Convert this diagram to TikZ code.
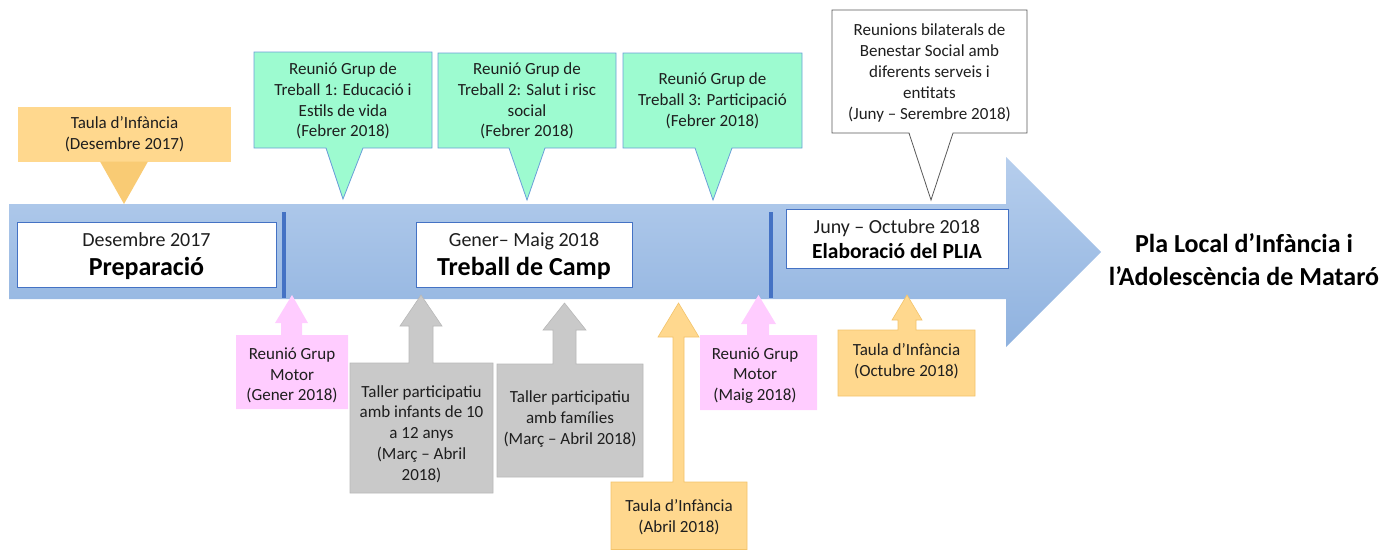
\documentclass[tikz,border=0pt]{standalone}
\usepackage{fontspec}
\setmainfont{Carlito}
\definecolor{txtc}{HTML}{1E1E1E}
\definecolor{orangef}{HTML}{FFD88E}
\definecolor{oranged}{HTML}{F9CB74}
\definecolor{orangeb}{HTML}{F3C36A}
\definecolor{pinkf}{HTML}{FFCCFF}
\definecolor{grayf}{HTML}{C9C9C9}
\definecolor{grayb}{HTML}{B8B8B8}
\definecolor{greenf}{HTML}{9DFBD0}
\definecolor{greenb}{HTML}{6A9FD8}
\definecolor{whiteb}{HTML}{595959}
\definecolor{arrtop}{HTML}{B6CEED}
\definecolor{arrmid}{HTML}{A4C1E5}
\definecolor{arrbot}{HTML}{8FB2DF}
\definecolor{divc}{HTML}{4472C4}
\tikzset{
  txt/.style={text=txtc, align=center, font=\fontsize{17}{20.8}\selectfont, inner sep=0pt},
  orangebox/.style={fill=orangef},
  orangebottom/.style={fill=orangef, draw=orangeb, line width=0.6pt},
  pinkbox/.style={fill=pinkf},
  graybox/.style={fill=grayf, draw=grayb, line width=0.6pt},
  greenbox/.style={fill=greenf, draw=greenb, line width=0.8pt, line join=miter},
  whitebox/.style={fill=white, draw=whiteb, line width=0.8pt, line join=miter},
  phasebox/.style={fill=white, draw=divc, line width=0.7pt, inner sep=0pt},
  divider/.style={draw=divc, line width=3.3pt}
}
\begin{document}
\begin{tikzpicture}[x=1pt, y=-1pt]
\useasboundingbox (0,0) rectangle (1385,550);

% main arrow
\path[top color=arrtop, middle color=arrmid, bottom color=arrbot]
  (9,204) -- (1006,204) -- (1006,157) -- (1101,252) -- (1006,347) -- (1006,299) -- (9,299) -- cycle;

% dividers
\coordinate (d1a) at (284,212); \coordinate (d1b) at (284,298);
\coordinate (d2a) at (771,212); \coordinate (d2b) at (771,298);
\draw[divider] (d1a) -- (d1b);
\draw[divider] (d2a) -- (d2b);

% phase boxes
\node[phasebox, minimum width=259pt, minimum height=65pt] (prep) at (146.5,254.5) {};
\node[anchor=base, text=txtc, inner sep=0pt, font=\fontsize{20}{24}\selectfont] (prepd) at (146.5,246) {Desembre 2017};
\node[anchor=base, text=black, inner sep=0pt, font=\fontsize{26}{30}\selectfont\bfseries] (prept) at (146.5,275) {Preparació};

\node[phasebox, minimum width=216pt, minimum height=65pt] (camp) at (524,254.5) {};
\node[anchor=base, text=txtc, inner sep=0pt, font=\fontsize{20}{24}\selectfont] (campd) at (524,246) {Gener– Maig 2018};
\node[anchor=base, text=black, inner sep=0pt, font=\fontsize{26}{30}\selectfont\bfseries] (campt) at (524,275) {Treball de Camp};

\node[phasebox, minimum width=222pt, minimum height=59pt] (elab) at (897,238.5) {};
\node[anchor=base, text=txtc, inner sep=0pt, font=\fontsize{20}{24}\selectfont] (elabd) at (897,233) {Juny – Octubre 2018};
\node[anchor=base, text=black, inner sep=0pt, font=\fontsize{21.5}{26}\selectfont\bfseries] (elabt) at (897,258) {Elaboració del PLIA};

% final title
\node[align=center, text=black, inner sep=0pt, font=\fontsize{26}{33}\selectfont\bfseries] (plia) at (1244,260) {Pla Local d’Infància i\\l’Adolescència de Mataró};

% ---- top callouts ----
\path[orangebox] (18,107) rectangle (231,162);
\path[fill=oranged] (100,161.5) -- (124,204) -- (148,161.5) -- cycle;
\node[txt] (t1) at (124.5,134.5) {Taula d’Infància\\(Desembre 2017)};

\path[greenbox] (254,52) -- (432,52) -- (432,148) -- (363,148) -- (343,199) -- (326,148) -- (254,148) -- cycle;
\node[txt] (g1) at (343,101) {Reunió Grup de\\Treball 1: Educació i\\Estils de vida\\(Febrer 2018)};

\path[greenbox] (438,53) -- (616,53) -- (616,148) -- (545,148) -- (527,200) -- (509,148) -- (438,148) -- cycle;
\node[txt] (g2) at (527,101) {Reunió Grup de\\Treball 2: Salut i risc\\social\\(Febrer 2018)};

\path[greenbox] (623,53) -- (802,53) -- (802,148) -- (732,148) -- (713,200) -- (695,148) -- (623,148) -- cycle;
\node[txt] (g3) at (712.5,101) {Reunió Grup de\\Treball 3: Participació\\(Febrer 2018)};

\path[whitebox] (832,10) -- (1027,10) -- (1027,133) -- (953,133) -- (931,200) -- (909,133) -- (832,133) -- cycle;
\node[txt] (w1) at (929.5,73) {Reunions bilaterals de\\Benestar Social amb\\diferents serveis i\\entitats\\(Juny – Serembre 2018)};

% ---- bottom callouts ----
\path[pinkbox] (236,335) -- (281,335) -- (281,323) -- (275,323) -- (292,295) -- (308,323) -- (302,323) -- (302,335) -- (348,335) -- (348,409) -- (236,409) -- cycle;
\node[txt] (p1) at (292,375.5) {Reunió Grup\\Motor\\(Gener 2018)};

\path[graybox] (350,363) -- (409,363) -- (409,326) -- (400,326) -- (421,295) -- (442,326) -- (433,326) -- (433,363) -- (493,363) -- (493,493) -- (350,493) -- cycle;
\node[txt] (s1) at (421.5,434) {Taller participatiu\\amb infants de 10\\a 12 anys\\(Març – Abril\\2018)};

\path[graybox] (497,364) -- (553,364) -- (553,330) -- (543,330) -- (564.5,303) -- (586,330) -- (576,330) -- (576,364) -- (643,364) -- (643,477) -- (497,477) -- cycle;
\node[txt] (s2) at (570,419) {Taller participatiu\\amb famílies\\(Març – Abril 2018)};

\path[orangebottom] (611,482) -- (673,482) -- (673,337) -- (658,337) -- (678.5,303) -- (699,337) -- (684,337) -- (684,482) -- (747,482) -- (747,549.5) -- (611,549.5) -- cycle;
\node[txt] (o2) at (679,517.5) {Taula d’Infància\\(Abril 2018)};

\path[pinkbox] (700,335) -- (747,335) -- (747,324) -- (741,324) -- (758.5,295) -- (776,324) -- (769,324) -- (769,335) -- (817,335) -- (817,410) -- (700,410) -- cycle;
\node[txt] (p2) at (755,375.5) {Reunió Grup\\Motor\\(Maig 2018)};

\path[orangebottom] (838,330) -- (898,330) -- (898,320) -- (892,320) -- (907,295) -- (922,320) -- (916,320) -- (916,330) -- (975,330) -- (975,396) -- (838,396) -- cycle;
\node[txt] (o3) at (906.5,361.5) {Taula d’Infància\\(Octubre 2018)};

\end{tikzpicture}
\end{document}
